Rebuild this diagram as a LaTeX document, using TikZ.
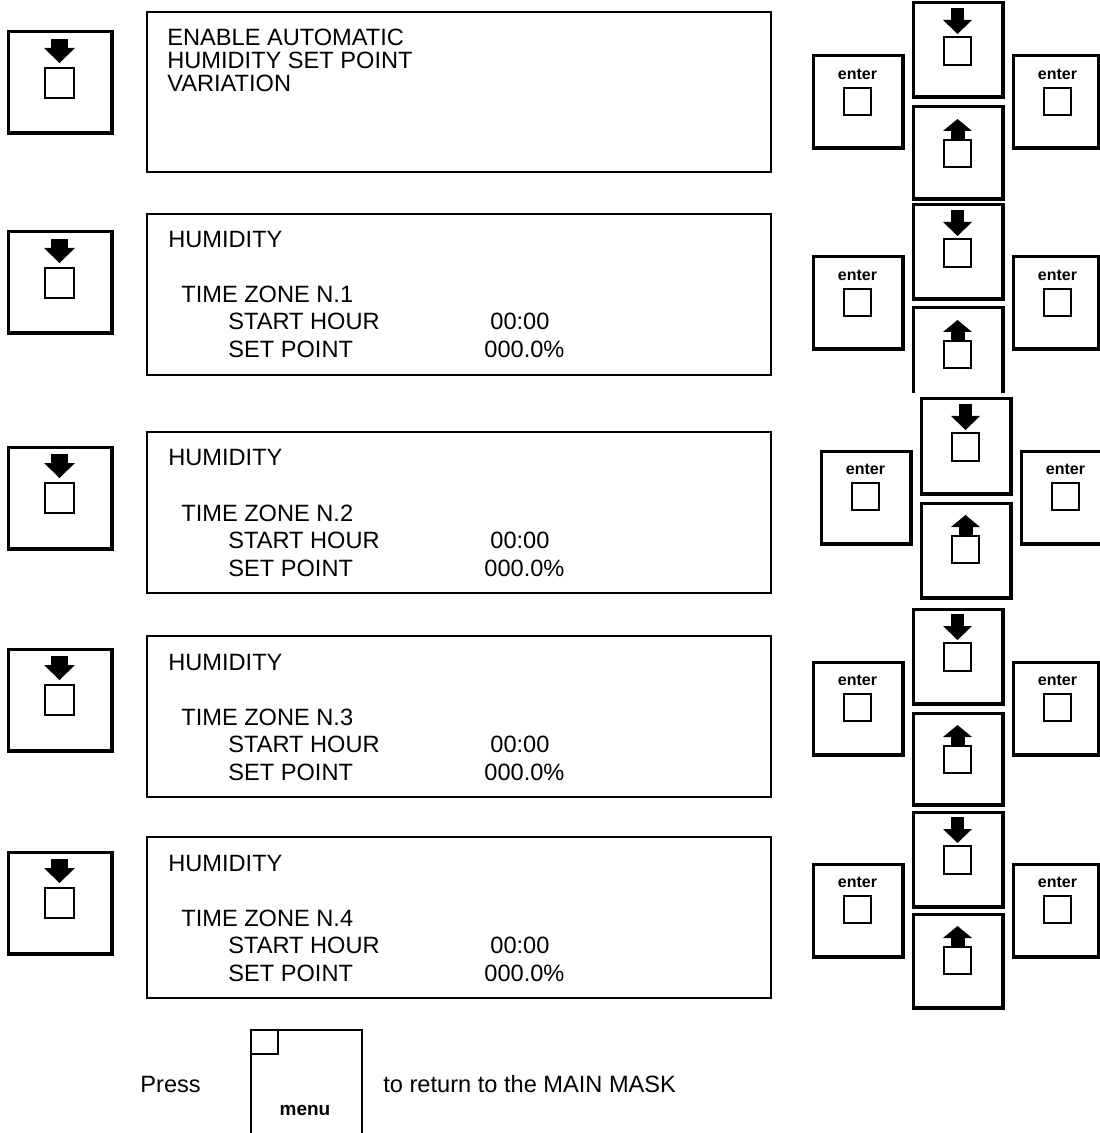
\documentclass[tikz,border=0pt]{standalone}
\usepackage{fontspec}
\setmainfont{Liberation Sans}
\tikzset{
  keyline/.style={line width=1.5pt},
  boxline/.style={line width=1pt},
  sqline/.style={line width=1.1pt},
  screentext/.style={anchor=base west,inner sep=0pt,font=\fontsize{11.8}{14}\selectfont},
  keytext/.style={inner sep=0pt,font=\fontsize{8}{9}\selectfont\bfseries},
}
% thick key frame, heavier on bottom and right
\newcommand{\keyframe}[4]{%
  \draw[keyline] (#1,#2) rectangle (#3,#4);
  \fill (#1-1.5,#4) rectangle (#3+3,#4+2.5);
  \fill (#3,#2-1.5) rectangle (#3+3,#4+2.5);
}
\begin{document}
\begin{tikzpicture}[x=0.5pt,y=-0.5pt]
\useasboundingbox (0,0) rectangle (1099,1133);
% screens
\draw[boxline] (147,12) rectangle (771,172);
\node[screentext] (en1) at (167,46) {ENABLE AUTOMATIC};
\node[screentext] (en2) at (167,69) {HUMIDITY SET POINT};
\node[screentext] (en3) at (167,92) {VARIATION};
\foreach \z/\t in {1/214, 2/432, 3/636, 4/837}{
  \draw[boxline] (147,\t) rectangle (771,\t+161);
  \node[screentext] (hum\z) at (168,\t+34) {HUMIDITY};
  \node[screentext] (tz\z) at (181,\t+89) {TIME ZONE N.\z};
  \node[screentext] (sh\z) at (228,\t+116) {START HOUR};
  \node[screentext] (hv\z) at (490,\t+116) {00:00};
  \node[screentext] (sp\z) at (228,\t+144) {SET POINT};
  \node[screentext] (pv\z) at (484,\t+144) {000.0\%};
}
% left down keys
\foreach \t in {32,232,447,649,852}{
  \begin{scope}[shift={(8,\t)}]
    \keyframe{0}{0}{103}{101}
    \fill (43,7) rectangle (60,16);
    \fill (36,16) -- (67,16) -- (51.5,31) -- cycle;
    \draw[sqline] (37,36) rectangle (66,66);
  \end{scope}
}
% right key clusters
\foreach \xo/\dt/\ut/\et/\ub [count=\r] in {0/3/107/56/199, 0/205/308/257/393,
    8/399/503/451/597, 0/609/713/662/804, 0/812/914/864/1007}{
  \begin{scope}[shift={(913+\xo,\dt)}]
    \keyframe{0}{0}{89}{94}
    \fill (38,5) rectangle (51,18);
    \fill (30,17) -- (59,17) -- (44.5,31) -- cycle;
    \draw[sqline] (31,34) rectangle (58,62);
  \end{scope}
  \begin{scope}[shift={(913+\xo,\ut)}]
    \ifnum\r=2
      \draw[keyline] (0,\ub-\ut) -- (0,0) -- (89,0) -- (89,\ub-\ut);
      \fill (89,-1.5) rectangle (92,\ub-\ut);
    \else
      \keyframe{0}{0}{89}{\ub-\ut}
    \fi
    \fill (30,24) -- (59,24) -- (44.5,12) -- cycle;
    \fill (37.5,24) rectangle (51.5,33);
    \draw[sqline] (31,33) rectangle (58,60);
  \end{scope}
  \begin{scope}[shift={(813+\xo,\et)}]
    \keyframe{0}{0}{89}{92}
    \node[keytext] (entl\r) at (44.5,18) {enter};
    \draw[sqline] (31,32) rectangle (58,59);
  \end{scope}
  \begin{scope}[shift={(1013+\xo,\et)}]
    \keyframe{0}{0}{85}{92}
    \node[keytext] (entr\r) at (44.5,18) {enter};
    \draw[sqline] (31,32) rectangle (58,59);
  \end{scope}
}
% menu key
\node[screentext] (press) at (140,1092) {Press};
\draw[line width=1.3pt] (251,1140) -- (251,1030) -- (362,1030) -- (362,1140);
\draw[line width=1.1pt] (251,1054) -- (278,1054) -- (278,1030);
\node[keytext,font=\fontsize{9.5}{10}\selectfont\bfseries] (menu) at (305,1110) {menu};
\node[screentext] (ret) at (383,1092) {to return to the MAIN MASK};
\end{tikzpicture}
\end{document}
